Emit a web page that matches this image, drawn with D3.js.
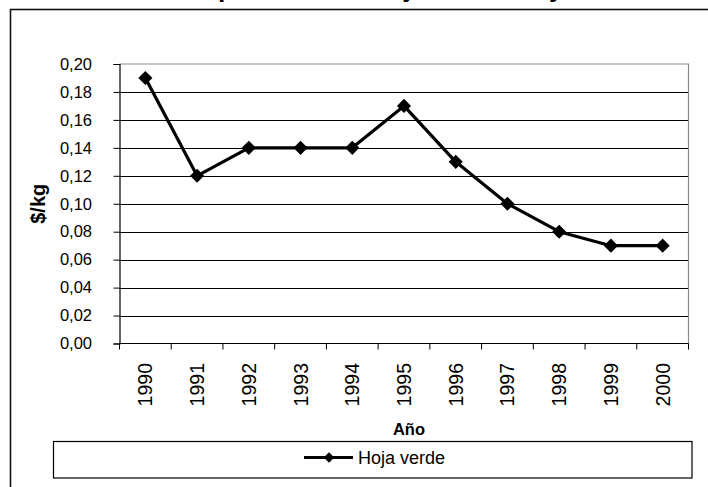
<!DOCTYPE html>
<html>
<head>
<meta charset="utf-8">
<script src="https://cdn.jsdelivr.net/npm/d3@7/dist/d3.min.js"></script>
<style>
  html, body { margin: 0; padding: 0; background: #fff; }
  svg { display: block; font-family: "Liberation Sans", Arial, sans-serif; }
</style>
</head>
<body>
<svg id="chart" width="708" height="487"></svg>
<script>
// ---- data ----
const titleText = "Evolución del precio de la hoja verde de yerba mate";
const years = ["1990","1991","1992","1993","1994","1995","1996","1997","1998","1999","2000"];
const hojaVerde = [0.19, 0.12, 0.14, 0.14, 0.14, 0.17, 0.13, 0.10, 0.08, 0.07, 0.07];
const yTicks = [0, 0.02, 0.04, 0.06, 0.08, 0.10, 0.12, 0.14, 0.16, 0.18, 0.20];
const seriesName = "Hoja verde";
const xTitle = "Año";
const yTitle = "$/kg";

// ---- layout ----
const svg = d3.select("#chart");
const plot = { left: 119.5, right: 688.5, top: 64, bottom: 343.5 };

const x = d3.scaleBand().domain(years).range([plot.left, plot.right]);
const y = d3.scaleLinear().domain([0, 0.20]).range([plot.bottom, plot.top]);

const diamond = {
  draw(ctx, size) {
    const r = Math.sqrt(size) / 2;
    ctx.moveTo(0, -r); ctx.lineTo(r, 0); ctx.lineTo(0, r); ctx.lineTo(-r, 0); ctx.closePath();
  }
};

// outer chart border
svg.append("rect")
  .attr("x", 10.5).attr("y", 9.5).attr("width", 740).attr("height", 520)
  .attr("fill", "none").attr("stroke", "#111").attr("stroke-width", 1.6);

// title (mostly cropped above the picture, as in the reference)
const title = svg.append("text")
  .attr("x", 34).attr("y", -2.7)
  .attr("font-size", 27).attr("font-weight", "bold")
  .text(titleText);
(function fitTitle() {
  const node = title.node();
  const iP = titleText.indexOf("precio");
  const iJ = titleText.indexOf("j");
  const iY = titleText.indexOf("yerba");
  const pos = i => node.getStartPositionOfChar(i).x;
  const d0 = pos(iJ) - pos(iP);
  const fs = 27 * 186 / d0;
  title.attr("font-size", fs);
  const px = pos(iP);
  title.attr("x", 34 + (218 - px));
  title.attr("y", -0.12 * fs + 0.6);
})();

// gridlines
svg.append("g").selectAll("line")
  .data(yTicks.filter(d => d > 0 && d < 0.2))
  .join("line")
  .attr("x1", plot.left).attr("x2", plot.right)
  .attr("y1", d => Math.round(y(d)) + 0.5).attr("y2", d => Math.round(y(d)) + 0.5)
  .attr("stroke", "#000").attr("stroke-width", 1);

// plot border (grey top and right)
svg.append("path")
  .attr("d", `M${plot.left},${y(0.2)}H${plot.right}V${plot.bottom}`)
  .attr("fill", "none").attr("stroke", "#8c8c8c").attr("stroke-width", 1.2);

// y axis
const fmt = d => d3.format(".2f")(d).replace(".", ",");
const yAxis = svg.append("g")
  .attr("transform", `translate(${plot.left},0)`)
  .call(d3.axisLeft(y).tickValues(yTicks).tickSize(6).tickPadding(21.5).tickFormat(fmt));
yAxis.select(".domain").attr("stroke", "#000").attr("stroke-width", 1.2);
yAxis.selectAll(".tick line").attr("stroke", "#000");
yAxis.selectAll("text").attr("font-size", 16.5).attr("fill", "#000")
  .attr("font-family", "Liberation Sans, Arial, sans-serif");

// x axis line
svg.append("line")
  .attr("x1", plot.left).attr("x2", plot.right)
  .attr("y1", plot.bottom).attr("y2", plot.bottom)
  .attr("stroke", "#000").attr("stroke-width", 1.2);

// x boundary ticks
const bounds = years.map(d => x(d)).concat([plot.right]);
svg.append("g").selectAll("line").data(bounds).join("line")
  .attr("x1", d => d).attr("x2", d => d)
  .attr("y1", plot.bottom).attr("y2", plot.bottom + 6)
  .attr("stroke", "#000").attr("stroke-width", 1);

// x labels (rotated)
const xAxis = svg.append("g")
  .attr("transform", `translate(0,${plot.bottom})`)
  .call(d3.axisBottom(x).tickSize(0));
xAxis.select(".domain").remove();
xAxis.selectAll("text")
  .attr("font-size", 19.5).attr("fill", "#000")
  .attr("font-family", "Liberation Sans, Arial, sans-serif")
  .attr("transform", "rotate(-90)")
  .attr("text-anchor", "end")
  .attr("x", -19.5).attr("y", 0).attr("dy", "0.36em");

// axis titles
svg.append("text")
  .attr("x", 409).attr("y", 435)
  .attr("text-anchor", "middle").attr("font-size", 16.5).attr("font-weight", "bold")
  .text(xTitle);
svg.append("text")
  .attr("transform", `translate(44.5,${(plot.top + plot.bottom) / 2}) rotate(-90)`)
  .attr("text-anchor", "middle").attr("font-size", 20).attr("font-weight", "bold")
  .text(yTitle);

// series line
const data = years.map((yr, i) => ({ yr, v: hojaVerde[i] }));
const cx = d => x(d.yr) + x.bandwidth() / 2;
svg.append("path")
  .datum(data)
  .attr("d", d3.line().x(cx).y(d => y(d.v)))
  .attr("fill", "none").attr("stroke", "#000").attr("stroke-width", 3.2)
  .attr("stroke-linejoin", "round");
svg.append("g").selectAll("path").data(data).join("path")
  .attr("transform", d => `translate(${cx(d)},${y(d.v)})`)
  .attr("d", d3.symbol(diamond, 200))
  .attr("fill", "#000");

// legend
const lg = svg.append("g");
lg.append("rect")
  .attr("x", 53.5).attr("y", 441.5).attr("width", 638.5).attr("height", 36.5)
  .attr("fill", "#fff").attr("stroke", "#000").attr("stroke-width", 1.2);
lg.append("line")
  .attr("x1", 304).attr("x2", 353).attr("y1", 457.5).attr("y2", 457.5)
  .attr("stroke", "#000").attr("stroke-width", 3.2);
lg.append("path")
  .attr("transform", "translate(329,457.5)")
  .attr("d", d3.symbol(diamond, 110))
  .attr("fill", "#000");
lg.append("text")
  .attr("x", 358).attr("y", 463.5).attr("font-size", 18)
  .text(seriesName);
</script>
</body>
</html>
